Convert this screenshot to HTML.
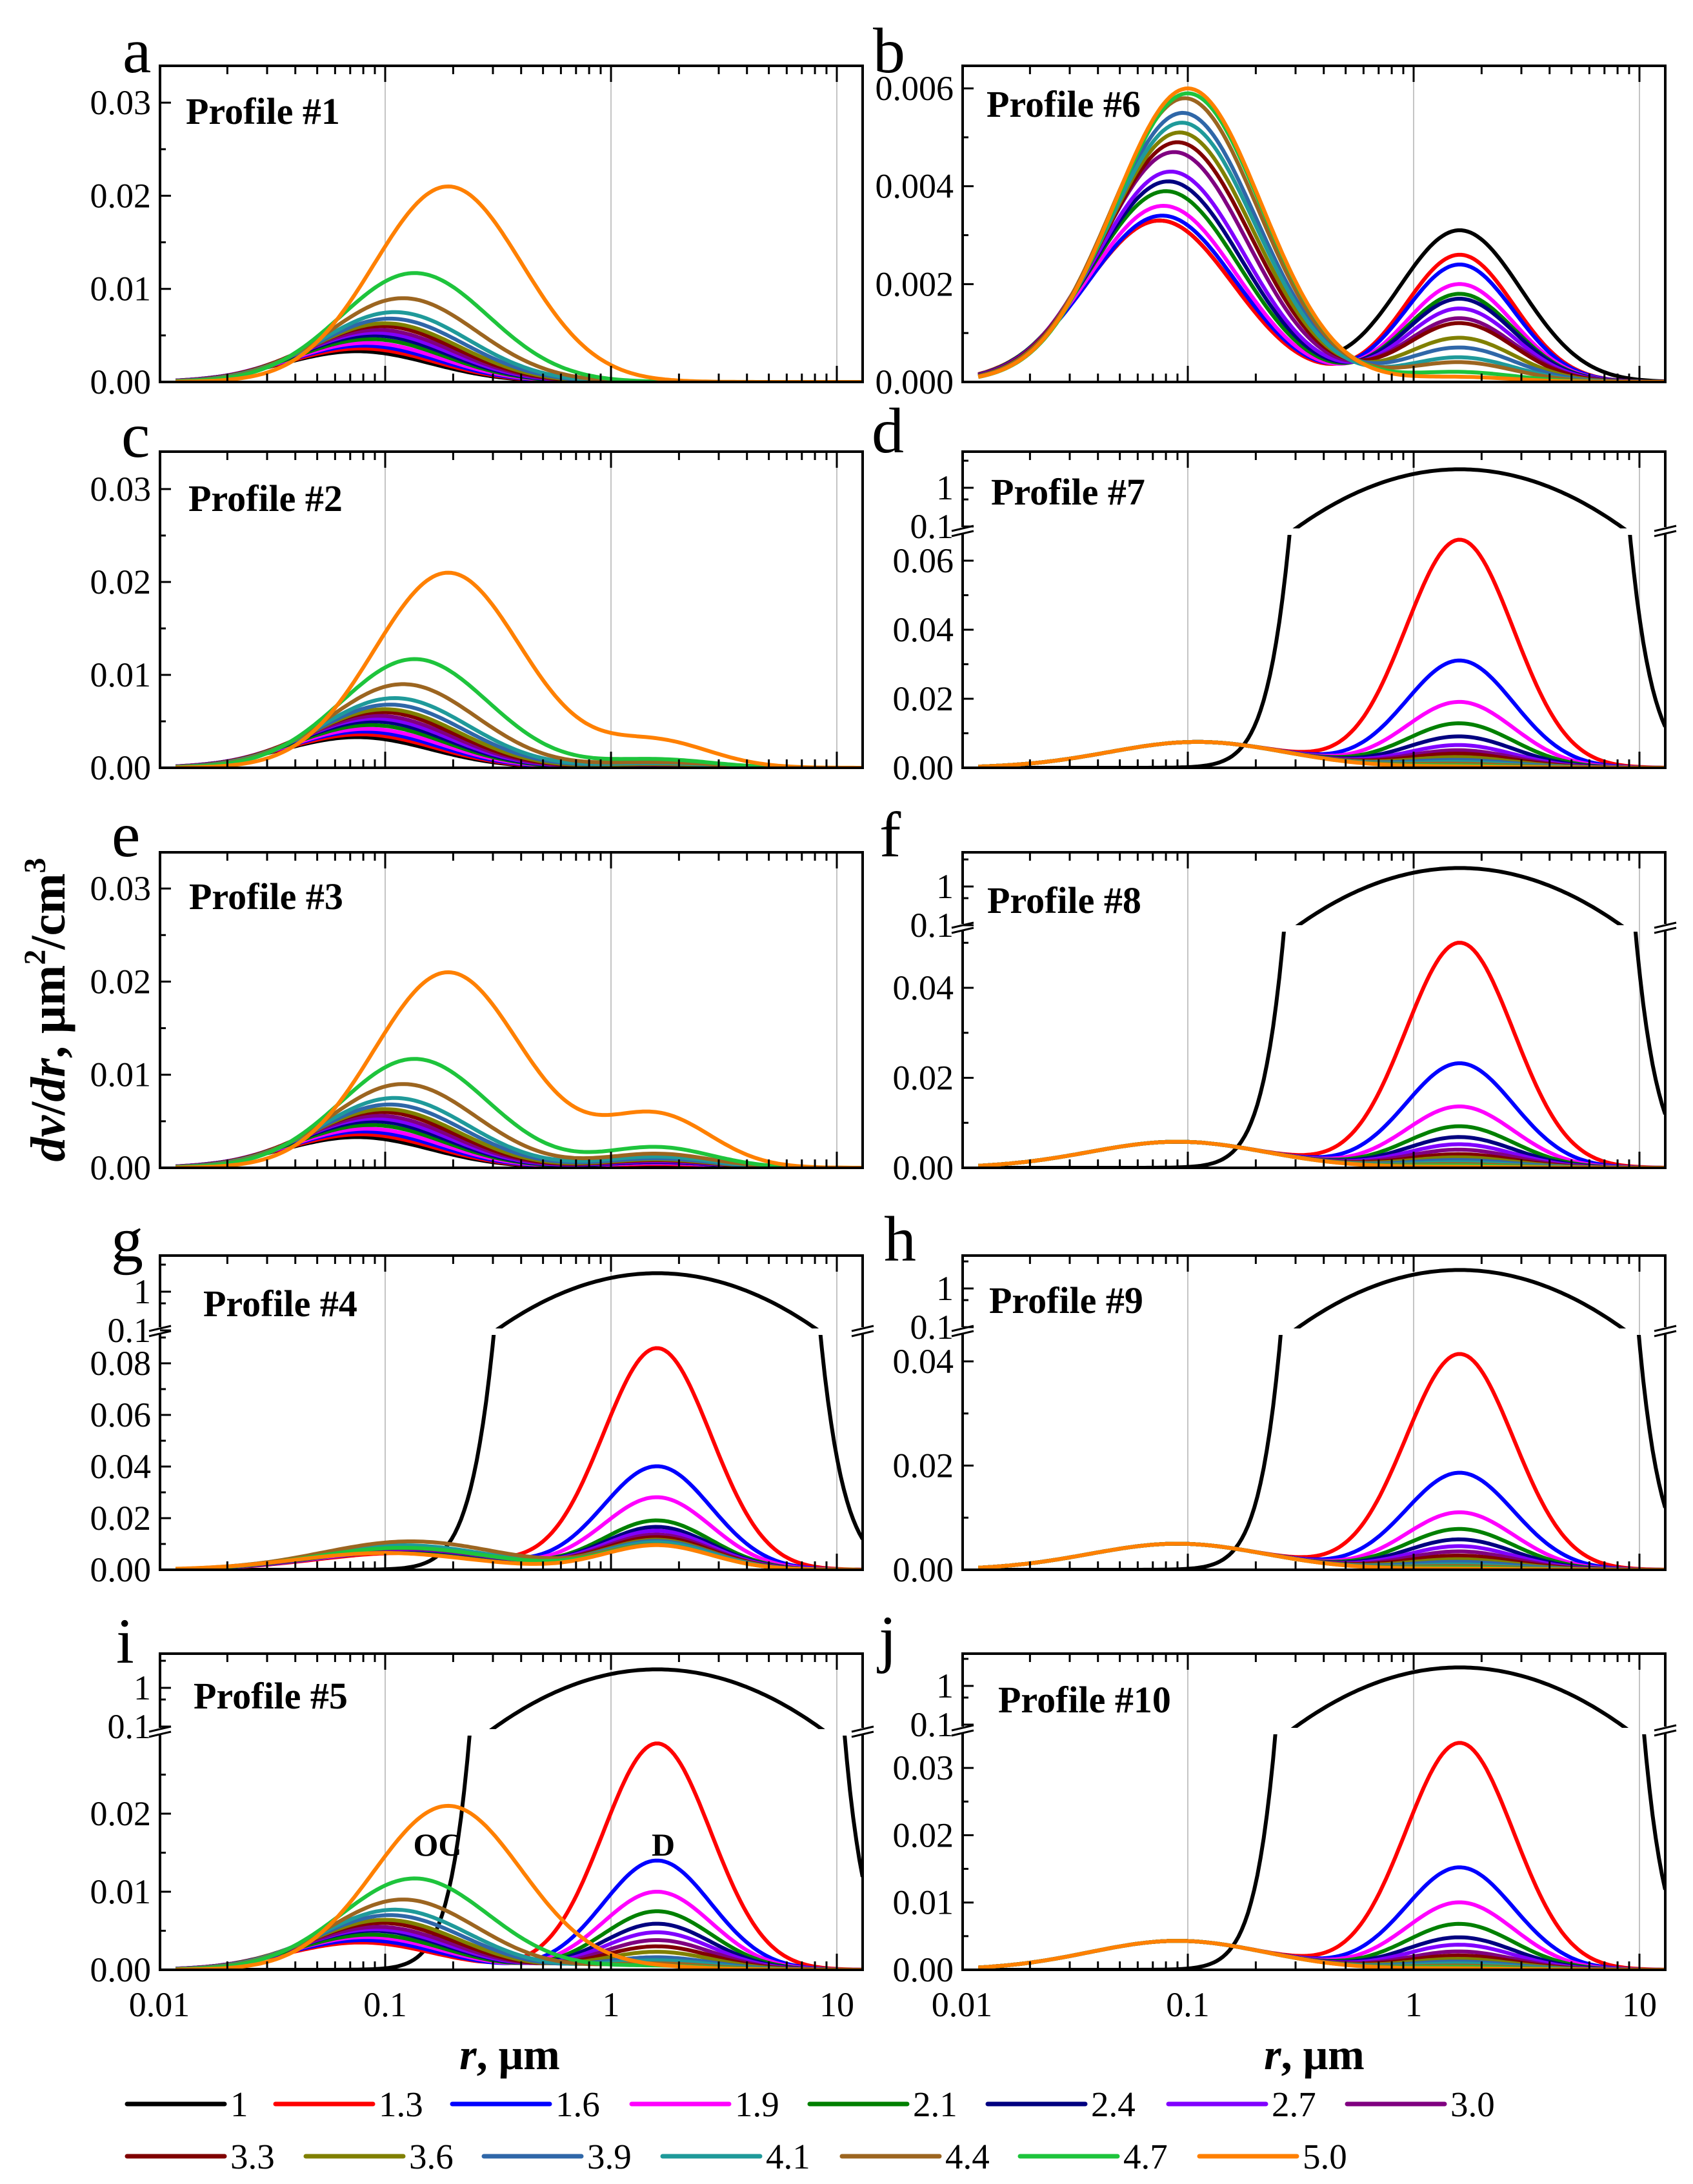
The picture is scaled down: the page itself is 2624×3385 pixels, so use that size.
<!DOCTYPE html>
<html><head><meta charset="utf-8">
<style>
html,body{margin:0;padding:0;background:#fff;}
svg{display:block;}
text{font-family:"Liberation Serif","DejaVu Serif",serif;}
</style></head>
<body>
<svg id="chart" width="2624" height="3385" viewBox="0 0 2624 3385" xmlns="http://www.w3.org/2000/svg">
<rect x="0" y="0" width="2624" height="3385" fill="#fff"/>
<g font-size="100">
<text x="190" y="112">a</text>
<text x="1353" y="112">b</text>
<text x="188" y="708">c</text>
<text x="1351" y="701">d</text>
<text x="173" y="1327">e</text>
<text x="1363" y="1327">f</text>
<text x="172" y="1955">g</text>
<text x="1370" y="1954">h</text>
<text x="180" y="2577">i</text>
<text x="1362" y="2573">j</text>
</g>
<g font-size="58" font-weight="bold">
<text x="288" y="192">Profile #1</text>
<text x="1529" y="181">Profile #6</text>
<text x="292" y="792">Profile #2</text>
<text x="1536" y="782">Profile #7</text>
<text x="293" y="1409">Profile #3</text>
<text x="1530" y="1415">Profile #8</text>
<text x="315" y="2040">Profile #4</text>
<text x="1533" y="2035">Profile #9</text>
<text x="300" y="2648">Profile #5</text>
<text x="1547" y="2654">Profile #10</text>
</g>
<text x="678" y="2876" font-size="50" font-weight="bold" text-anchor="middle">OC</text>
<text x="1028" y="2876" font-size="50" font-weight="bold" text-anchor="middle">D</text>
<text transform="translate(100,1565) rotate(-90)" text-anchor="middle" font-size="76" font-weight="bold"><tspan font-style="italic">dv</tspan>/<tspan font-style="italic">dr</tspan>, μm<tspan font-size="48" dy="-30">2</tspan><tspan dy="30">/cm</tspan><tspan font-size="48" dy="-30">3</tspan></text>
<text x="790" y="3207" text-anchor="middle" font-size="68" font-weight="bold"><tspan font-style="italic">r</tspan>, μm</text>
<text x="2037" y="3207" text-anchor="middle" font-size="68" font-weight="bold"><tspan font-style="italic">r</tspan>, μm</text>
</svg>
<script>
// ---- data ----
const lambdas = ["1","1.3","1.6","1.9","2.1","2.4","2.7","3.0","3.3","3.6","3.9","4.1","4.4","4.7","5.0"];
const colors = ["#000000","#ff0000","#0000ff","#ff00ff","#008000","#000080","#8000ff","#800080","#800000","#808000","#2f67a8","#1f9a9a","#9c6520","#1ec43c","#ff8000"];
const xTickLabels = ["0.01","0.1","1","10"];
const xTickValues = [0.01,0.1,1,10];
const coarseRadius = 1.6;
const coarseSigma = [0.63,0.55,0.55,0.55,0.55,0.55,0.55,0.55,0.55,0.55,0.55,0.55,0.55,0.55,0.55];
// Profile #1 (a)
const p1FineAmp = [0.0033,0.0036,0.0039,0.0042,0.0046,0.005,0.0053,0.0056,0.006,0.0063,0.0068,0.0075,0.009,0.0117,0.021];
const p1FineRad = [0.075,0.078,0.08,0.083,0.086,0.088,0.09,0.093,0.096,0.1,0.105,0.11,0.12,0.135,0.19];
const p1CoarseAmp = [0,0,0,0,0,0,0,0,0,0,0,0,0,0,0];
// Profile #2 (c)
const p2FineAmp = [0.0033,0.0036,0.0039,0.0042,0.0046,0.005,0.0053,0.0056,0.006,0.0063,0.0068,0.0075,0.009,0.0117,0.021];
const p2CoarseAmp = [0.0001,0.0001,0.0002,0.0002,0.0002,0.0003,0.0003,0.0003,0.0004,0.0004,0.0005,0.0005,0.0006,0.0009,0.0028];
// Profile #3 (e)
const p3FineAmp = [0.0033,0.0036,0.0039,0.0042,0.0046,0.005,0.0053,0.0056,0.006,0.0063,0.0068,0.0075,0.009,0.0117,0.021];
const p3CoarseAmp = [0.0003,0.0004,0.0005,0.0005,0.0006,0.0006,0.0007,0.0008,0.0008,0.0009,0.001,0.0012,0.0015,0.0022,0.0056];
// Profile #4 (g)
const p4FineAmp = [0,0.0065,0.007,0.0072,0.0075,0.0078,0.008,0.0082,0.0085,0.0088,0.009,0.0095,0.011,0.0085,0.0065];
const p4FineRad = [0.12,0.12,0.12,0.12,0.12,0.12,0.12,0.12,0.12,0.12,0.12,0.12,0.13,0.12,0.1];
const p4CoarseAmp = [3.0,0.0858,0.040,0.028,0.019,0.0165,0.015,0.0135,0.0125,0.0115,0.011,0.0105,0.0095,0.0095,0.0095];
// Profile #5 (i)
const p5FineAmp = [0,0.0035,0.0038,0.0042,0.0045,0.005,0.0052,0.0055,0.006,0.0064,0.007,0.0077,0.009,0.0117,0.021];
const p5CoarseAmp = [3.0,0.029,0.014,0.01,0.0075,0.0059,0.0048,0.0038,0.003,0.0023,0.0016,0.0012,0.0008,0.0005,0.0003];
// Profile #6 (b)
const p6FineAmp = [0.0033,0.0033,0.0034,0.0036,0.0039,0.0041,0.0043,0.0047,0.0049,0.0051,0.0055,0.0053,0.0058,0.0059,0.006];
const p6FineRad = [0.075,0.075,0.077,0.078,0.08,0.082,0.084,0.087,0.09,0.092,0.095,0.094,0.097,0.1,0.1];
const p6CoarseAmp = [0.0031,0.0026,0.0024,0.002,0.0018,0.0017,0.0015,0.0013,0.0012,0.0009,0.0007,0.0005,0.0004,0.0002,0.0001];
// Profile #7 (d)
const p7FineAmp = [0,0.0075,0.0075,0.0075,0.0075,0.0075,0.0075,0.0075,0.0075,0.0075,0.0075,0.0075,0.0075,0.0075,0.0075];
const p7CoarseAmp = [3.0,0.066,0.031,0.019,0.0128,0.009,0.0065,0.005,0.004,0.003,0.0022,0.0016,0.0011,0.0006,0.0003];
// Profile #8 (f)
const p8FineAmp = [0,0.0058,0.0058,0.0058,0.0058,0.0058,0.0058,0.0058,0.0058,0.0058,0.0058,0.0058,0.0058,0.0058,0.0058];
const p8CoarseAmp = [3.0,0.05,0.0232,0.0136,0.0092,0.0068,0.0052,0.004,0.003,0.0023,0.0017,0.0012,0.0008,0.0005,0.0002];
// Profile #9 (h)
const p9FineAmp = [0,0.005,0.005,0.005,0.005,0.005,0.005,0.005,0.005,0.005,0.005,0.005,0.005,0.005,0.005];
const p9CoarseAmp = [3.0,0.0414,0.0186,0.011,0.0078,0.0058,0.0045,0.0035,0.0027,0.002,0.0015,0.001,0.0007,0.0004,0.0002];
// Profile #10 (j)
const p10FineAmp = [0,0.0043,0.0043,0.0043,0.0043,0.0043,0.0043,0.0043,0.0043,0.0043,0.0043,0.0043,0.0043,0.0043,0.0043];
const p10CoarseAmp = [3.0,0.0337,0.0152,0.01,0.0068,0.0048,0.0037,0.0027,0.0021,0.0016,0.0012,0.0009,0.0006,0.0004,0.0002];
const fineRad011 = [0.11,0.11,0.11,0.11,0.11,0.11,0.11,0.11,0.11,0.11,0.11,0.11,0.11,0.11,0.11];
const fineRad009 = [0.09,0.09,0.09,0.09,0.09,0.09,0.09,0.09,0.09,0.09,0.09,0.09,0.09,0.09,0.09];

// ---- layout ----
const NS = 'http://www.w3.org/2000/svg';
const svg = document.getElementById('chart');
function mk(tag, attrs, parent){ const e = document.createElementNS(NS, tag); for (const k in attrs) e.setAttribute(k, attrs[k]); (parent||svg).appendChild(e); return e; }
const colX0 = [247, 1491];
const DEC = 350;
const rows = [[102,592],[700,1190],[1321,1810],[1946,2433],[2563,3053]];

const panels = [
 {id:'a',col:0,row:0,type:'lin',scale:14430,maxT:0.03,step:0.01,minor:0.005,dec:2,fa:p1FineAmp,fr:p1FineRad,fs:0.75,ca:p1CoarseAmp},
 {id:'b',col:1,row:0,type:'lin',scale:75833,maxT:0.006,step:0.002,minor:0.001,dec:3,fa:p6FineAmp,fr:p6FineRad,fs:0.75,ca:p6CoarseAmp},
 {id:'c',col:0,row:1,type:'lin',scale:14400,maxT:0.03,step:0.01,minor:0.005,dec:2,fa:p2FineAmp,fr:p1FineRad,fs:0.75,ca:p2CoarseAmp},
 {id:'d',col:1,row:1,type:'brk',scale:5350,y1:756,brk:822,maxT:0.06,step:0.02,minor:0.01,dec:2,fa:p7FineAmp,fr:fineRad011,fs:0.9,ca:p7CoarseAmp},
 {id:'e',col:0,row:2,type:'lin',scale:14430,maxT:0.03,step:0.01,minor:0.005,dec:2,fa:p3FineAmp,fr:p1FineRad,fs:0.75,ca:p3CoarseAmp},
 {id:'f',col:1,row:2,type:'brk',scale:6975,y1:1374,brk:1437,maxT:0.04,step:0.02,minor:0.01,dec:2,fa:p8FineAmp,fr:fineRad009,fs:0.9,ca:p8CoarseAmp},
 {id:'g',col:0,row:3,type:'brk',scale:4000,y1:2002,brk:2062,maxT:0.08,step:0.02,minor:0.01,dec:2,fa:p4FineAmp,fr:p4FineRad,fs:0.9,ca:p4CoarseAmp},
 {id:'h',col:1,row:3,type:'brk',scale:8075,y1:1997,brk:2062,maxT:0.04,step:0.02,minor:0.01,dec:2,fa:p9FineAmp,fr:fineRad009,fs:0.9,ca:p9CoarseAmp},
 {id:'i',col:0,row:4,type:'brk',scale:12100,y1:2616,brk:2683,maxT:0.02,step:0.01,minor:0.005,dec:2,fa:p5FineAmp,fr:p1FineRad,fs:0.75,ca:p5CoarseAmp},
 {id:'j',col:1,row:4,type:'brk',scale:10430,y1:2613,brk:2681,maxT:0.03,step:0.01,minor:0.005,dec:2,fa:p10FineAmp,fr:fineRad009,fs:0.9,ca:p10CoarseAmp}
];

const rMin = 0.0118, rMax = 13, NPTS = 220;

panels.forEach(p => {
  const x0 = colX0[p.col];
  const L = x0 + 1, R = x0 + 1090;
  const T = rows[p.row][0], B = rows[p.row][1];
  const xOf = r => x0 + DEC * Math.log10(r / 0.01);
  const yLin = v => B - v * p.scale;
  const yLog = v => Math.min(B + 200, p.y1 - 60 * Math.log10(Math.max(v, 1e-9)));
  const g = mk('g', {});
  
  

  const defs = mk('defs', {}, g);
  const cpLow = mk('clipPath', {id:'clipL' + p.id}, defs);
  const lowTop = p.type === 'brk' ? p.brk + 7 : T;
  mk('rect', {x:L, y:lowTop, width:R - L, height:B - lowTop}, cpLow);
  const cpUp = mk('clipPath', {id:'clipU' + p.id}, defs);
  if (p.type === 'brk') mk('rect', {x:L, y:T, width:R - L, height:p.brk - 3 - T}, cpUp);

  [0.1, 1, 10].forEach(v => {
    const gl = mk('line', {x1:xOf(v), x2:xOf(v), y1:T, y2:B, stroke:'#c4c4c4', 'stroke-width':2}, g);
    
    
  });

  const lowG = mk('g', {'clip-path':'url(#clipL' + p.id + ')'}, g);
  
  
  const upG = mk('g', {'clip-path':'url(#clipU' + p.id + ')'}, g);
  
  
  lambdas.forEach((lam, k) => {
    const ptsL = [], ptsU = [];
    for (let i = 0; i < NPTS; i++) {
      const r = rMin * Math.pow(rMax / rMin, i / (NPTS - 1));
      const lf = Math.log(r / p.fr[k]), lc = Math.log(r / coarseRadius);
      const v = p.fa[k] * Math.exp(-lf * lf / (2 * p.fs * p.fs)) + p.ca[k] * Math.exp(-lc * lc / (2 * coarseSigma[k] * coarseSigma[k]));
      const x = xOf(r).toFixed(1);
      ptsL.push(x + ',' + Math.max(T - 50, yLin(v)).toFixed(1));
      ptsU.push(x + ',' + yLog(v).toFixed(1));
    }
    const pl = mk('polyline', {points:ptsL.join(' '), fill:'none', stroke:colors[k], 'stroke-width':6, 'stroke-linejoin':'round'}, lowG);
    
    
    if (p.type === 'brk' && p.ca[k] > 0.1) {
      const pu = mk('polyline', {points:ptsU.join(' '), fill:'none', stroke:colors[k], 'stroke-width':6, 'stroke-linejoin':'round'}, upG);
      
      
    }
  });

  const ax = mk('g', {stroke:'#000', 'stroke-width':4, fill:'none'}, g);
  
  
  mk('line', {x1:L - 2, x2:R + 2, y1:T, y2:T}, ax);
  mk('line', {x1:L - 2, x2:R + 2, y1:B, y2:B}, ax);
  if (p.type === 'brk') {
    [L, R].forEach(x => {
      mk('line', {x1:x, x2:x, y1:T, y2:p.brk - 5}, ax);
      mk('line', {x1:x, x2:x, y1:p.brk + 5, y2:B}, ax);
      mk('line', {x1:x - 17, y1:p.brk + 1, x2:x + 17, y2:p.brk - 7, 'stroke-width':3}, ax);
      mk('line', {x1:x - 17, y1:p.brk + 9, x2:x + 17, y2:p.brk + 1, 'stroke-width':3}, ax);
    });
  } else {
    mk('line', {x1:L, x2:L, y1:T, y2:B}, ax);
    mk('line', {x1:R, x2:R, y1:T, y2:B}, ax);
  }

  const tk = mk('g', {stroke:'#000', 'stroke-width':3}, g);
  
  
  for (let d = 0.01; d < 20; d *= 10) {
    for (let m = 1; m <= 9; m++) {
      const v = d * m;
      if (v > rMax) break;
      const x = xOf(v);
      if (x < L + 2) continue;
      const len = m === 1 ? 25 : 13;
      mk('line', {x1:x, x2:x, y1:B, y2:B - len}, tk);
      mk('line', {x1:x, x2:x, y1:T, y2:T + len}, tk);
    }
  }
  if (p.row === 4) {
    xTickValues.forEach((v, i) => {
      const t = mk('text', {x:xOf(v), y:3125, 'text-anchor':'middle', 'font-size':54}, g);
      t.textContent = xTickLabels[i];
      
      
    });
  }

  const yt = mk('g', {stroke:'#000', 'stroke-width':3}, g);
  
  
  const nMinor = Math.floor((p.type === 'brk' ? (B - p.brk - 8) / p.scale : (B - T - 4) / p.scale) / p.minor + 1e-6);
  for (let i = 0; i <= nMinor; i++) {
    const v = i * p.minor;
    const y = yLin(v);
    const major = Math.abs(v / p.step - Math.round(v / p.step)) < 1e-6;
    mk('line', {x1:L, x2:L + (major ? 17 : 9), y1:y, y2:y}, yt);
    if (major && v <= p.maxT + 1e-9) {
      const t = mk('text', {x:L - 14, y:y + 18, 'text-anchor':'end', 'font-size':54, stroke:'none'}, g);
      t.textContent = v.toFixed(p.dec);
      
      
    }
  }
  if (p.type === 'brk') {
    [[1, '1', 17], [0.1, '0.1', 17], [5, null, 9], [0.5, null, 9]].forEach(([v, lab, len]) => {
      const y = yLog(v);
      if (y < T + 3) return;
      mk('line', {x1:L, x2:L + len, y1:y, y2:y}, yt);
      if (lab) {
        const t = mk('text', {x:L - 14, y:y + 18, 'text-anchor':'end', 'font-size':54, stroke:'none'}, g);
        t.textContent = lab;
        
        
      }
    });
  }
});

// ---- legend ----
const legendRowY = [3261, 3342];
const legendRowStart = [[197,427,701,979,1255,1531,1811,2088],[197,474,750,1027,1305,1581,1859]];
const lg = mk('g', {});


lambdas.forEach((lam, k) => {
  const row = k < 8 ? 0 : 1;
  const x = legendRowStart[row][row === 0 ? k : k - 8];
  const y = legendRowY[row];
  const e = mk('g', {}, lg);
  
  
  mk('line', {x1:x, x2:x + 151, y1:y, y2:y, stroke:colors[k], 'stroke-width':7, 'stroke-linecap':'round'}, e);
  const t = mk('text', {x:x + 160, y:y + 19, 'font-size':55}, e);
  t.textContent = lam;
});
</script>
</body></html>
